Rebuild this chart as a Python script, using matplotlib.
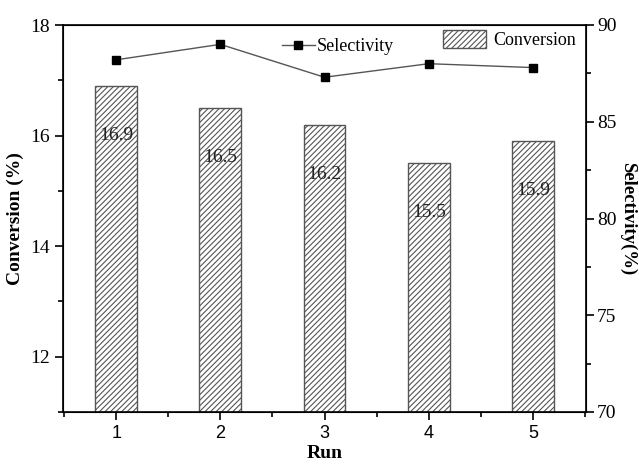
import matplotlib
matplotlib.use('Agg')
import matplotlib.pyplot as plt
from matplotlib.ticker import MultipleLocator

runs = [1, 2, 3, 4, 5]
conversion = [16.9, 16.5, 16.2, 15.5, 15.9]
selectivity = [88.2, 89.0, 87.3, 88.0, 87.8]
labels = ['16.9', '16.5', '16.2', '15.5', '15.9']

plt.rcParams['hatch.color'] = '#666666'
plt.rcParams['hatch.linewidth'] = 0.8
serif = 'Liberation Serif'

fig = plt.figure(figsize=(6.39, 4.66), dpi=100)
ax = fig.add_axes([63/639, 1-412/466, (586-63)/639, (412-25)/466])

bars = ax.bar(runs, conversion, width=0.4, bottom=0, color='white',
              edgecolor='#555555', linewidth=1.0, hatch='//////', label='Conversion')
for x, v, t in zip(runs, conversion, labels):
    ax.text(x, v - 0.9, t, ha='center', va='center', fontsize=14,
            family=serif, color='#222222')

ax.set_xlim(0.49, 5.51)
ax.set_ylim(11, 18)
ax.set_xticks(runs)
ax.xaxis.set_minor_locator(MultipleLocator(0.5))
ax.set_yticks([12, 14, 16, 18])
ax.yaxis.set_minor_locator(MultipleLocator(1))
ax.tick_params(axis='both', which='both', direction='out', width=1.2)
ax.tick_params(axis='both', which='major', length=6)
ax.tick_params(axis='both', which='minor', length=3.5)
ax.tick_params(axis='y', labelsize=14)
ax.tick_params(axis='x', labelsize=13)
for lab in ax.get_yticklabels():
    lab.set_family(serif)
for lab in ax.get_xticklabels():
    lab.set_family('Liberation Sans')
for s in ax.spines.values():
    s.set_linewidth(1.2)
ax.set_xlabel('Run', family=serif, fontweight='bold', fontsize=14, labelpad=2)
ax.set_ylabel('Conversion (%)', family=serif, fontweight='bold', fontsize=14, labelpad=4)

ax2 = ax.twinx()
line, = ax2.plot(runs, selectivity, '-s', color='#555555', lw=1.0, markersize=5.5,
                 markerfacecolor='black', markeredgecolor='black', label='Selectivity')
ax2.set_ylim(70, 90)
ax2.set_yticks([70, 75, 80, 85, 90])
ax2.yaxis.set_minor_locator(MultipleLocator(2.5))
ax2.tick_params(axis='y', which='both', direction='out', width=1.2, labelsize=14, pad=2)
ax2.tick_params(axis='y', which='major', length=6)
ax2.tick_params(axis='y', which='minor', length=3.5)
for lab in ax2.get_yticklabels():
    lab.set_family(serif)
ax2.set_ylabel('Selectivity(%)', family=serif, fontweight='bold', fontsize=13.5,
               rotation=-90, labelpad=14)

leg1 = ax2.legend(handles=[line], loc='upper left', bbox_to_anchor=(0.405, 0.985),
                  frameon=False, prop={'family': serif, 'size': 13}, handlelength=1.8,
                  handletextpad=0.1, borderaxespad=0)
ax2.add_artist(leg1)
leg2 = ax2.legend(handles=[bars], loc='upper right', bbox_to_anchor=(0.995, 1.005),
                  frameon=False, prop={'family': serif, 'size': 13}, handlelength=2.4,
                  handleheight=1.1, handletextpad=0.4, borderaxespad=0)

fig.savefig('out.png', dpi=100)
